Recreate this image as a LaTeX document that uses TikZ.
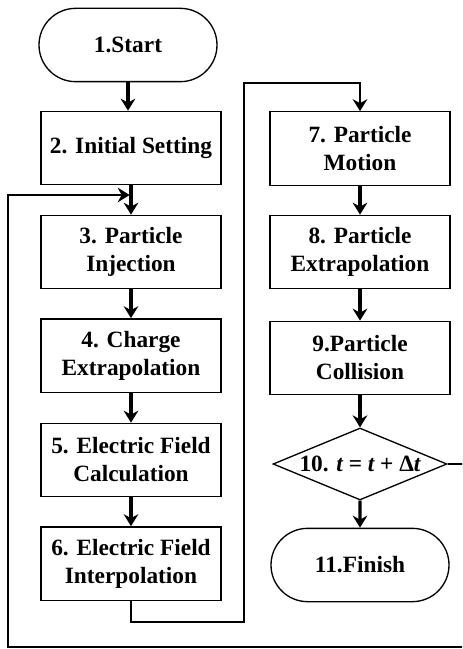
\documentclass[tikz,border=0pt]{standalone}
\usepackage{fontspec}
\setmainfont{Liberation Serif}
\usetikzlibrary{arrows.meta,shapes.geometric,shapes.misc,calc}

\tikzset{every picture/.style={line width=0.75pt}}
\tikzset{
  procbox/.style={draw, line width=1pt, minimum width=135pt, minimum height=55pt,
    inner sep=0.75pt, align=center, font=\fontsize{17.5}{21}\selectfont\bfseries},
  termbox/.style={procbox, rounded rectangle},
  decbox/.style={procbox, diamond, aspect=2.4, minimum width=130.5pt, minimum height=54pt, inner sep=0pt},
  headtip/.style={-{Stealth[length=9pt,width=11pt,inset=3pt]}},
  flow/.style={line width=2.4pt, headtip},
  back/.style={line width=1.9pt},
}

\begin{document}
\begin{tikzpicture}[x=0.75pt,y=0.75pt,yscale=-1,xscale=1]
\clip (0,0) rectangle (462,649);

%Flowchart: Terminator
\node [termbox] (start) at (128,45) {1.Start};
%Flowchart: Process
\node [procbox] (init) at (131,148) {2. Initial Setting};
%Flowchart: Process
\node [procbox] (inject) at (131,252) {3. Particle\\Injection};
%Flowchart: Process
\node [procbox] (charge) at (131,355.5) {4. Charge\\Extrapolation};
%Flowchart: Process
\node [procbox] (efcalc) at (131,460) {5. Electric Field\\Calculation};
%Flowchart: Process
\node [procbox] (efinterp) at (131,563.5) {6. Electric Field\\Interpolation};
%Flowchart: Process
\node [procbox] (motion) at (360,148.5) {7. Particle\\Motion};
%Flowchart: Process
\node [procbox] (pextra) at (360,252) {8. Particle\\Extrapolation};
%Flowchart: Process
\node [procbox] (collide) at (360,358) {9.Particle\\Collision};
%Flowchart: Decision
\node [decbox] (tstep) at (360,464) {10. {\itshape t} = {\itshape t} + Δ{\itshape t}};
%Flowchart: Terminator
\node [termbox] (finish) at (360,565) {11.Finish};

%bend points
\coordinate (merge) at (131,195);
\coordinate (lowturn) at (244,622);
\coordinate (over) at (360,83);
\coordinate (rgt) at (470,647);
\coordinate (lft) at (8,647);

%Straight Lines
\draw [flow] (start.south) -- (start.south |- init.north);
\draw [flow] (init) -- (inject);
\draw [flow] (inject) -- (charge);
\draw [flow] (charge) -- (efcalc);
\draw [flow] (efcalc) -- (efinterp);
\draw [flow] (motion) -- (pextra);
\draw [flow] (pextra) -- (collide);
\draw [flow] (collide) -- (tstep);
\draw [flow] (tstep) -- (finish);

%Loop Lines
\draw [back, headtip] (efinterp.south) |- (lowturn) |- (over) -- (motion.north);
\draw [back, headtip, shorten >=1pt] (tstep.east) -| (rgt) -- (lft) |- (merge);

\end{tikzpicture}
\end{document}
